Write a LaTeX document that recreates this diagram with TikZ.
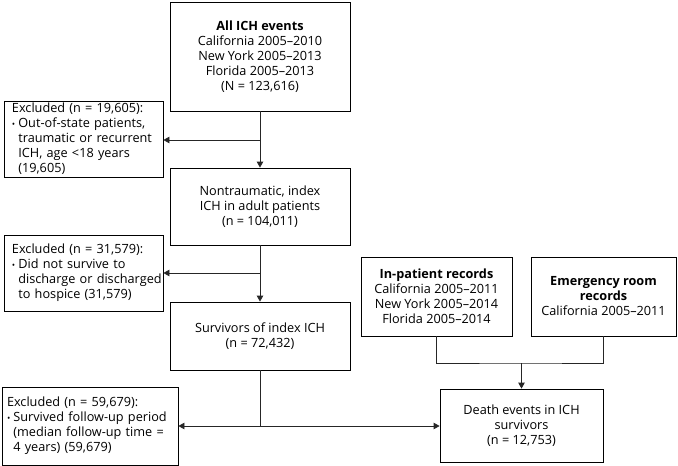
\documentclass[tikz,border=0pt]{standalone}
\usepackage{fontspec}
\setmainfont{Open Sans}
\usetikzlibrary{arrows.meta}
\tikzset{
  box/.style={draw=black, line width=0.8pt, align=center, inner sep=0pt, font=\fontsize{12.7}{15}\selectfont},
  exbox/.style={draw=black, line width=0.8pt, align=left, inner sep=0pt, font=\fontsize{12.7}{15}\selectfont},
  conn/.style={line width=0.8pt, draw=black!85},
  arr/.style={conn, -{Triangle[length=6pt,width=6.5pt]}},
}
\newcommand{\exbul}{\scalebox{0.7}{\textbullet}}
\newenvironment{exlist}{\begin{tabular}{@{}l@{\hspace{3pt}}l@{}}}{\end{tabular}}
\begin{document}
\begin{tikzpicture}[x=1pt,y=-1pt]
\useasboundingbox (0,0) rectangle (678,466);
\node[box, minimum width=180pt, minimum height=109pt] (b1) at (260,56.5)
  {\textbf{All ICH events}\\California 2005–2010\\New York 2005–2013\\Florida 2005–2013\\(N = 123,616)};
\node[box, minimum width=180pt, minimum height=77pt] (b2) at (260,206.5)
  {Nontraumatic, index\\ICH in adult patients\\(n = 104,011)};
\node[box, minimum width=180pt, minimum height=68pt] (b3) at (260,336)
  {Survivors of index ICH\\(n = 72,432)};
\node[exbox, minimum width=159pt, minimum height=76pt, text width=143pt] (e1) at (83.5,139)
  {\begin{exlist}\multicolumn{2}{@{}l@{}}{Excluded (n = 19,605):}\\
   \exbul & Out-of-state patients,\\ & traumatic or recurrent\\ & ICH, age <18 years\\ & (19,605)\end{exlist}};
\node[exbox, minimum width=159pt, minimum height=76pt, text width=143pt] (e2) at (83.5,273)
  {\begin{exlist}\multicolumn{2}{@{}l@{}}{Excluded (n = 31,579):}\\
   \exbul & Did not survive to\\ & discharge or discharged\\ & to hospice (31,579)\end{exlist}};
\node[exbox, minimum width=176pt, minimum height=78pt, text width=166pt] (e3) at (90,426)
  {\begin{exlist}\multicolumn{2}{@{}l@{}}{Excluded (n = 59,679):}\\
   \exbul & Survived follow-up period\\ & (median follow-up time =\\ & 4 years) (59,679)\end{exlist}};
\node[box, minimum width=163pt, minimum height=73pt] (d) at (521.5,425.5)
  {Death events in ICH\\survivors\\(n = 12,753)};
\node[box, minimum width=151pt, minimum height=79pt] (ip) at (436.5,296.5)
  {\textbf{In-patient records}\\California 2005–2011\\New York 2005–2014\\Florida 2005–2014};
\node[box, minimum width=145pt, minimum height=79pt] (er) at (603.5,296.5)
  {\textbf{Emergency room}\\\textbf{records}\\California 2005–2011};

\coordinate (j1) at (260,140);
\coordinate (j2) at (260,273);
\coordinate (j3) at (260,426);
\coordinate (j4) at (521.5,363);
\draw[arr] (b1.south) -- (b2.north);
\draw[arr] (j1) -- (e1.east |- j1);
\draw[arr] (b2.south) -- (b3.north);
\draw[arr] (j2) -- (e2.east |- j2);
\draw[conn] (b3.south) -- (j3);
\draw[arr] (j3) -- (e3.east |- j3);
\draw[arr] (j3) -- (d.west |- j3);
\draw[conn] (ip.south) |- (j4) -| (er.south);
\draw[arr] (j4) -- (d.north);
\end{tikzpicture}
\end{document}
